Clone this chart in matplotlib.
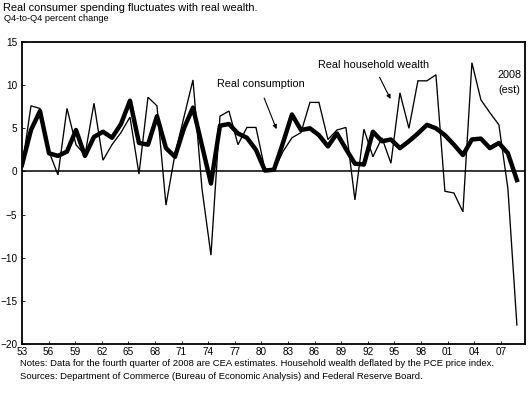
import matplotlib
matplotlib.use("Agg")
import matplotlib.pyplot as plt
import numpy as np

plt.rcParams["font.family"] = ["Liberation Sans", "DejaVu Sans"]

years = np.arange(1953, 2009)

# real household wealth, Q4-to-Q4 percent change
wealth = [
    0.5, 7.6, 7.3, 2.3, -0.4, 7.3, 3.1, 1.9, 7.9, 1.3,
    3.1, 4.5, 6.3, -0.3, 8.6, 7.6, -3.9, 2.0, 6.3, 10.6,
    -2.0, -9.7, 6.4, 7.0, 3.1, 5.1, 5.1, 0.2, 0.1, 2.3,
    3.9, 4.5, 8.0, 8.0, 3.7, 4.8, 5.1, -3.3, 4.9, 1.7,
    3.9, 0.95, 9.1, 5.0, 10.5, 10.5, 11.2, -2.3, -2.5, -4.7,
    12.6, 8.3, 6.8, 5.4, -2.0, -17.8,
]

# real consumption, Q4-to-Q4 percent change
consumption = [
    0.75, 4.8, 7.0, 2.1, 1.8, 2.3, 4.8, 1.8, 4.0, 4.6,
    3.9, 5.5, 8.2, 3.3, 3.1, 6.4, 2.7, 1.7, 5.0, 7.4,
    3.0, -1.4, 5.3, 5.5, 4.4, 3.9, 2.5, 0.1, 0.2, 3.3,
    6.6, 4.8, 5.0, 4.2, 2.9, 4.4, 2.6, 0.9, 0.8, 4.6,
    3.5, 3.7, 2.7, 3.5, 4.4, 5.4, 5.0, 4.2, 3.1, 1.9,
    3.7, 3.8, 2.7, 3.3, 2.1, -1.0,
]

tick_labels = ["53", "56", "59", "62", "65", "68", "71", "74", "77", "80",
               "83", "86", "89", "92", "95", "98", "01", "04", "07"]

W, H = 528, 394
fig = plt.figure(figsize=(W / 100, H / 100), dpi=100)
ax = fig.add_axes([22 / W, 1 - 344 / H, (525 - 22) / W, (344 - 42) / H])

ax.plot(years, wealth, color="black", lw=0.95, solid_joinstyle="miter")
ax.plot(years, consumption, color="black", lw=3.2, solid_joinstyle="round")
ax.axhline(0, color="black", lw=1.1)

ax.set_xlim(1953, 2008.9)
ax.set_ylim(-20, 15)
ax.set_yticks(np.arange(-20, 16, 5))
ax.set_xticks(np.linspace(1953, 2006.2, len(tick_labels)))
ax.set_xticklabels(tick_labels)
ax.tick_params(direction="in", length=2.5, width=0.6, labelsize=7.2, colors="black")
ax.tick_params(axis="x", pad=2)
ax.tick_params(axis="y", pad=3.5)
for s in ax.spines.values():
    s.set_linewidth(1.3)
    s.set_color("black")

ax.text(1979.6, 10.1, "Real consumption", fontsize=7.8, ha="center", va="center")
ax.annotate("", xy=(1981.4, 4.6), xytext=(1979.8, 8.8),
            arrowprops=dict(arrowstyle="-|>", lw=0.8, color="black",
                            mutation_scale=6))
ax.text(1992.1, 12.3, "Real household wealth", fontsize=7.8, ha="center", va="center")
ax.annotate("", xy=(1994.1, 8.1), xytext=(1992.6, 11.2),
            arrowprops=dict(arrowstyle="-|>", lw=0.8, color="black",
                            mutation_scale=6))
ax.text(2007.2, 11.2, "2008", fontsize=7.8, ha="center", va="center")
ax.text(2007.2, 9.4, "(est)", fontsize=7.8, ha="center", va="center")

fig.text(3 / W, 1 - 11 / H, "Real consumer spending fluctuates with real wealth.",
         fontsize=7.9, va="baseline")
fig.text(4 / W, 1 - 21 / H, "Q4-to-Q4 percent change", fontsize=6.7, va="baseline")
fig.text(20.5 / W, 1 - 365.5 / H,
         "Notes: Data for the fourth quarter of 2008 are CEA estimates. "
         "Household wealth deflated by the PCE price index.",
         fontsize=6.8, va="baseline")
fig.text(20.5 / W, 1 - 379 / H,
         "Sources: Department of Commerce (Bureau of Economic Analysis) "
         "and Federal Reserve Board.",
         fontsize=6.8, va="baseline")

fig.savefig("out.png", dpi=100)
